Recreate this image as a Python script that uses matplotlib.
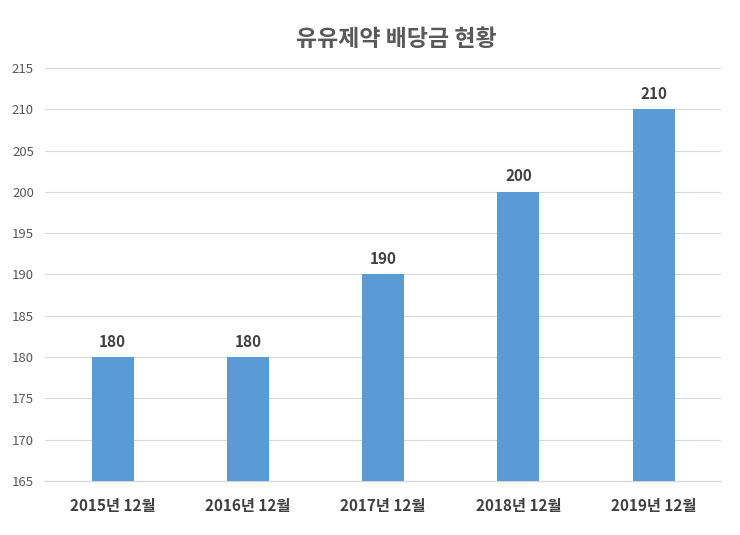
import matplotlib
matplotlib.use("Agg")
import matplotlib.pyplot as plt

plt.rcParams['font.family'] = ['Noto Sans CJK KR', 'DejaVu Sans']

categories = ["2015년 12월", "2016년 12월", "2017년 12월", "2018년 12월", "2019년 12월"]
values = [180, 180, 190, 200, 210]
yticks = [165, 170, 175, 180, 185, 190, 195, 200, 205, 210, 215]
title = "유유제약 배당금 현황"

fig = plt.figure(figsize=(7.4, 5.35), dpi=100)
ax = fig.add_axes([0.0608, 0.101, 0.914, 0.772])

bar_color = "#5B9BD5"
x = range(len(categories))
ax.bar(x, [v - yticks[0] for v in values], bottom=yticks[0], width=0.31,
       color=bar_color, zorder=3)

for xi, v in zip(x, values):
    ax.text(xi, v + 0.9, str(v), ha='center', va='bottom', fontsize=11,
            fontweight='bold', color='#404040')

ax.set_ylim(yticks[0], yticks[-1])
ax.set_xlim(-0.5, len(categories) - 0.5)
ax.set_yticks(yticks)
ax.set_yticklabels([str(t) for t in yticks], fontsize=9.5, color='#595959')
ax.set_xticks(list(x))
ax.set_xticklabels(categories, fontsize=11, fontweight='bold', color='#404040')
ax.tick_params(axis='both', length=0)
ax.tick_params(axis='x', pad=12)
ax.tick_params(axis='y', pad=8)

ax.grid(axis='y', color='#D9D9D9', linewidth=0.8, zorder=0)
for s in ['top', 'right', 'left']:
    ax.spines[s].set_visible(False)
ax.spines['bottom'].set_color('#D9D9D9')
ax.spines['bottom'].set_linewidth(1.0)

fig.text(0.535, 0.927, title, ha='center', va='center', fontsize=16.5,
         fontweight='bold', color='#595959')

fig.savefig("out.png", dpi=100, facecolor='white')
